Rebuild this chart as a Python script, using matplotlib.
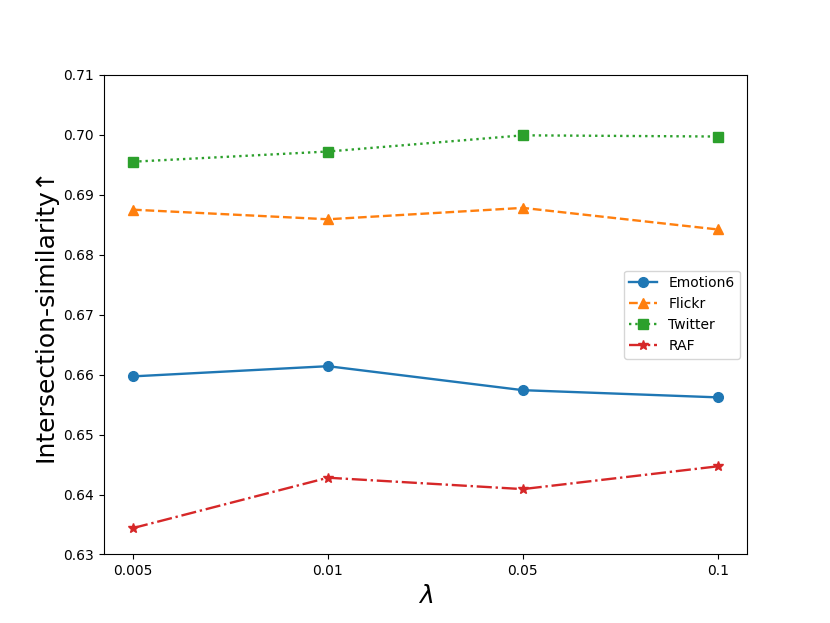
import matplotlib
matplotlib.use('Agg')
import matplotlib.pyplot as plt

# valori
lambdas = ['0.005', '0.01', '0.05', '0.1']
emotion6 = [0.6597, 0.6614, 0.6574, 0.6562]
flickr = [0.6875, 0.6859, 0.6878, 0.6842]
twitter = [0.6955, 0.6972, 0.6999, 0.6997]
raf = [0.6344, 0.6428, 0.6409, 0.6447]

fig = plt.figure(figsize=(8.3, 6.23), dpi=100)
ax = fig.add_subplot(111)

ax.plot(lambdas, emotion6, marker='o', linestyle='-', lw=1.7, ms=7, label='Emotion6')
ax.plot(lambdas, flickr, marker='^', linestyle='--', lw=1.7, ms=7, label='Flickr')
ax.plot(lambdas, twitter, marker='s', linestyle=':', lw=1.7, ms=7, label='Twitter')
ax.plot(lambdas, raf, marker='*', linestyle='-.', lw=1.7, ms=7, label='RAF')

ax.set_ylim(0.63, 0.71)
ax.set_xlabel(r'$\lambda$', fontsize=18)
ax.set_ylabel('Intersection-similarity↑', fontsize=18)
ax.legend(loc='center right')

plt.savefig('out.png', dpi=100)
